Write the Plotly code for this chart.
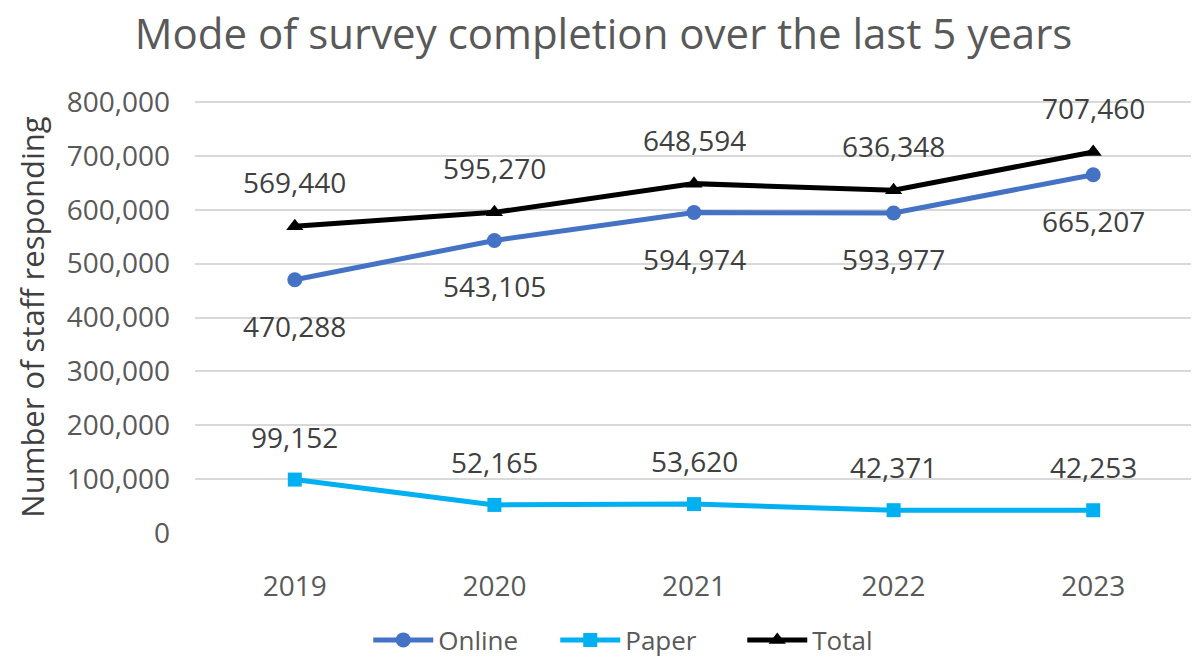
import plotly.graph_objects as go

years = ["2019", "2020", "2021", "2022", "2023"]
online = [470288, 543105, 594974, 593977, 665207]
paper = [99152, 52165, 53620, 42371, 42253]
total = [569440, 595270, 648594, 636348, 707460]
y_ticks = [0, 100000, 200000, 300000, 400000, 500000, 600000, 700000, 800000]
y_tick_labels = ["0", "100,000", "200,000", "300,000", "400,000", "500,000", "600,000", "700,000", "800,000"]

FONT = "Open Sans, DejaVu Sans, sans-serif"
W, H = 1191, 650  # page body has an 8px margin

fig = go.Figure()
fig.add_trace(go.Scatter(x=years, y=online, name="Online", mode="lines+markers",
                         line=dict(color="#4472C4", width=5),
                         marker=dict(symbol="circle", size=15, color="#4472C4")))
fig.add_trace(go.Scatter(x=years, y=paper, name="Paper", mode="lines+markers",
                         line=dict(color="#00B0F0", width=5),
                         marker=dict(symbol="square", size=14, color="#00B0F0")))
fig.add_trace(go.Scatter(x=years, y=total, name="Total", mode="lines+markers",
                         line=dict(color="#000000", width=5),
                         marker=dict(symbol="triangle-up", size=15, color="#000000")))

label_font = dict(family=FONT, size=28, color="#404040")
for series, shift in [(online, -46), (paper, 43), (total, 44)]:
    for i, v in enumerate(series):
        fig.add_annotation(x=i, y=v, text=f"{v:,}", showarrow=False, yshift=shift,
                           font=label_font)

fig.update_layout(
    width=W, height=H,
    paper_bgcolor="white", plot_bgcolor="white",
    margin=dict(l=187, r=6, t=93, b=125),
    title=dict(text="Mode of survey completion over the last 5 years",
               xref="container", x=0.5, xanchor="center",
               y=1 - 26 / H, yanchor="middle",
               font=dict(family=FONT, size=42, color="#595959")),
    legend=dict(orientation="h", xref="container", x=0.538, xanchor="center", yref="container",
                y=1 - 632 / H, yanchor="middle",
                font=dict(family=FONT, size=26, color="#595959"),
                itemwidth=60, entrywidth=112, entrywidthmode="pixels"),
    showlegend=True,
)
fig.update_xaxes(type="category", range=[-0.5, 4.5], showgrid=False, showline=False, zeroline=False,
                 ticks="outside", ticklen=0, ticklabelstandoff=28,
                 tickfont=dict(family=FONT, size=28, color="#595959"))
fig.update_yaxes(range=[0, 802000], tickvals=y_ticks, ticktext=y_tick_labels,
                 showgrid=True, gridcolor="#D9D9D9", gridwidth=1.5, zeroline=False,
                 showline=False, ticklabelstandoff=24,
                 tickfont=dict(family=FONT, size=28, color="#595959"),
                 title=dict(text="Number of staff responding", standoff=12,
                            font=dict(family=FONT, size=31, color="#404040")))

fig.write_html("out.html")
